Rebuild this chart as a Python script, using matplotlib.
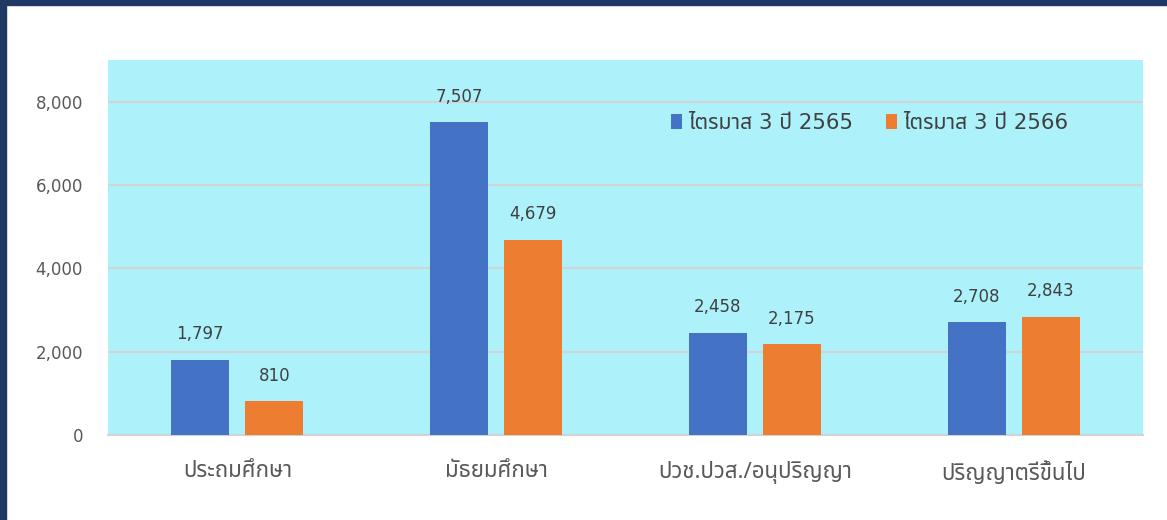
import matplotlib
matplotlib.use("Agg")
import matplotlib.pyplot as plt
import numpy as np
from matplotlib.ticker import FuncFormatter

categories = ["ประถมศึกษา", "มัธยมศึกษา", "ปวช.ปวส./อนุปริญญา", "ปริญญาตรีขึ้นไป"]
series_names = ["ไตรมาส 3 ปี 2565", "ไตรมาส 3 ปี 2566"]
values_2565 = [1797, 7507, 2458, 2708]
values_2566 = [810, 4679, 2175, 2843]

FAM = ["DejaVu Sans", "Noto Sans Thai"]
plt.rcParams['font.family'] = FAM

fig = plt.figure(figsize=(11.67, 5.2), dpi=100)
fig.patch.set_facecolor("white")
W, H = 1167, 520
ax = fig.add_axes([108 / W, 1 - 435 / H, (1143 - 108) / W, (435 - 60) / H])
ax.set_facecolor("#ADF2FB")

x = np.arange(len(categories))
bw = 0.225
off = 0.143
b1 = ax.bar(x - off, values_2565, bw, color="#4472C4", label=series_names[0], zorder=3)
b2 = ax.bar(x + off, values_2566, bw, color="#ED7D31", label=series_names[1], zorder=3)

for bars in (b1, b2):
    for r in bars:
        v = r.get_height()
        ax.annotate(f"{v:,.0f}", (r.get_x() + r.get_width() / 2, v), xytext=(0, 12),
                    textcoords="offset points", ha="center", va="bottom",
                    fontsize=12, color="#404040")

ax.set_xlim(-0.5, 3.5)
ax.set_ylim(0, 9000)
ax.set_yticks([0, 2000, 4000, 6000, 8000])
ax.yaxis.set_major_formatter(FuncFormatter(lambda v, p: f"{v:,.0f}"))
ax.grid(axis="y", color="#D3D3D3", linewidth=1.5, zorder=0)
ax.set_xticks(x)
ax.set_xticklabels(categories, family=["Noto Sans Thai", "DejaVu Sans"], fontsize=16)
ax.tick_params(axis="y", length=0, labelsize=12, colors="#595959", pad=18)
ax.tick_params(axis="x", length=0, colors="#595959", pad=19)
for s in ("top", "right", "left"):
    ax.spines[s].set_visible(False)
ax.spines["bottom"].set_color("#D3D3D3")
ax.spines["bottom"].set_linewidth(1.5)

leg = ax.legend(loc="center left", bbox_to_anchor=((671 - 108) / 1035, (435 - 123) / 375), ncol=2,
                frameon=False, prop={"family": FAM, "size": 15.3},
                handlelength=0.5, handleheight=0.75, handletextpad=0.3,
                columnspacing=1.55, labelcolor="#404040", borderaxespad=0, borderpad=0)

# navy border top and left
fig.patches.append(plt.Rectangle((0, 1 - 5 / H), 1, 5 / H, transform=fig.transFigure,
                                 color="#1F3864", zorder=10))
fig.patches.append(plt.Rectangle((0, 0), 6 / W, 1, transform=fig.transFigure,
                                 color="#1F3864", zorder=10))

fig.savefig("out.png", dpi=100)
